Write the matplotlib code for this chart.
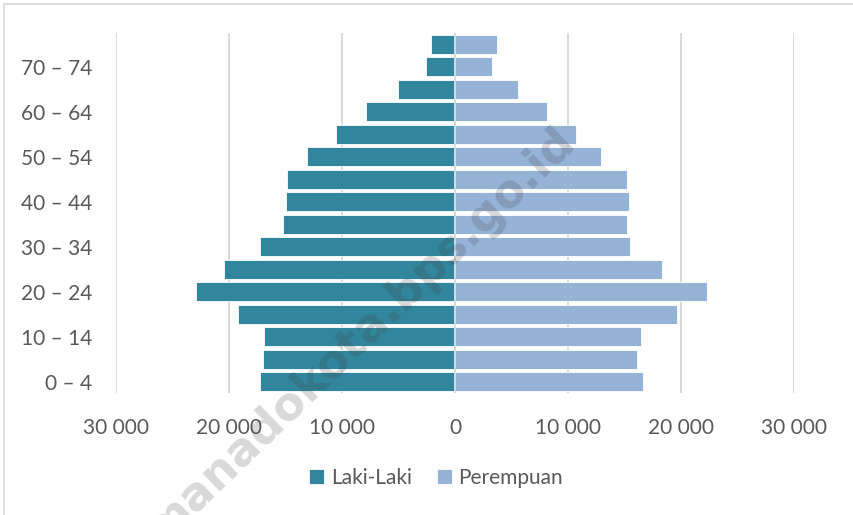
import matplotlib.pyplot as plt
from matplotlib.patches import Rectangle

# age groups, bottom to top
age_groups = ["0 – 4", "5 – 9", "10 – 14", "15 – 19", "20 – 24", "25 – 29",
              "30 – 34", "35 – 39", "40 – 44", "45 – 49", "50 – 54", "55 – 59",
              "60 – 64", "65 – 69", "70 – 74", "75+"]
laki_laki = [17230, 16960, 16870, 19200, 22890, 20470, 17230, 15190,
             14930, 14840, 13100, 10500, 7900, 5020, 2600, 2120]
perempuan = [16640, 16110, 16430, 19620, 22330, 18290, 15520, 15220,
             15430, 15250, 12890, 10710, 8170, 5550, 3300, 3690]
x_ticks = [-30000, -20000, -10000, 0, 10000, 20000, 30000]

teal = "#31859C"
light = "#95B3D7"
grid_c = "#D9D9D9"
text_c = "#595959"


def fmt(v):
    return "{:,}".format(abs(v)).replace(",", " ")


def main():
    plt.rcParams['font.family'] = ['Lato', 'DejaVu Sans']
    fig = plt.figure(figsize=(8.54, 5.15), dpi=100)
    ax = fig.add_axes([116 / 854, 1 - 393 / 515, 678 / 854, 360 / 515])

    y = list(range(len(age_groups)))
    ax.barh(y, [-v for v in laki_laki], height=0.86, color=teal,
            edgecolor="white", linewidth=0.6, label="Laki-Laki", zorder=2)
    ax.barh(y, perempuan, height=0.86, color=light,
            edgecolor="white", linewidth=0.6, label="Perempuan", zorder=2)

    ax.set_xlim(-30000, 30000)
    ax.set_ylim(-0.5, len(age_groups) - 0.5)
    ax.set_xticks(x_ticks)
    ax.set_xticklabels([fmt(v) for v in x_ticks])
    ax.set_yticks(y[::2])
    ax.set_yticklabels(age_groups[::2])
    ax.tick_params(axis="both", length=0, labelsize=15, labelcolor=text_c)
    ax.tick_params(axis="x", pad=18)
    ax.tick_params(axis="y", pad=17)

    for s in ax.spines.values():
        s.set_visible(False)
    ax.grid(axis="x", color=grid_c, linewidth=1.4, zorder=0)
    ax.axvline(0, color=grid_c, linewidth=1.4, zorder=3)

    leg = fig.legend(loc="center", bbox_to_anchor=(436 / 854, 1 - 478 / 515),
                     ncol=2, frameon=False, fontsize=15, handlelength=0.75,
                     handleheight=0.75, handletextpad=0.3, columnspacing=1.2)
    for t in leg.get_texts():
        t.set_color(text_c)

    # watermark (runs off the bottom edge, as in the original)
    fig.text(360 / 854, 1 - 336 / 515, "manadokota.bps.go.id", fontsize=33,
             fontweight="bold", color="#404040", alpha=0.2, rotation=44,
             ha="center", va="center", family="DejaVu Sans", zorder=10)

    # chart frame
    fig.patches.append(Rectangle((4 / 854, -0.1), 1.2, 1 - 4 / 515 + 0.1,
                                 transform=fig.transFigure, fill=False,
                                 edgecolor=grid_c, linewidth=1.2))

    fig.savefig("out.png", dpi=100)


if __name__ == "__main__":
    main()
